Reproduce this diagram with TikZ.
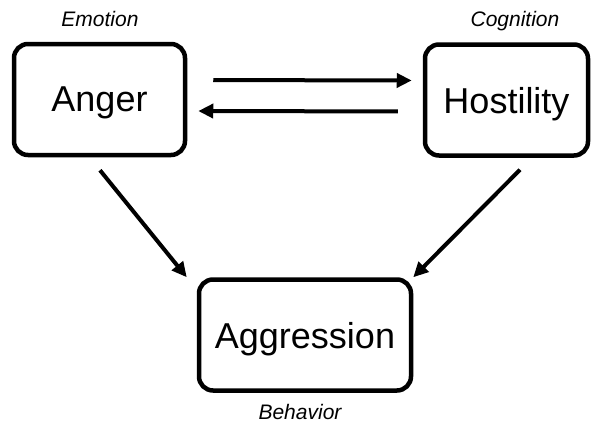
\documentclass[tikz,border=0pt]{standalone}
\usepackage{fontspec}
\setmainfont{Liberation Sans}
\usetikzlibrary{arrows.meta}
\begin{document}
\begin{tikzpicture}[x=1pt,y=-1pt,
  stage/.style={draw, line width=4.5pt, rounded corners=14pt,
    inner sep=0pt, minimum height=111pt, text depth=0pt,
    font=\fontsize{36}{40}\selectfont},
  role/.style={anchor=base, font=\fontsize{21}{24}\selectfont\itshape},
  link/.style={line width=4pt, -{Triangle[length=15pt,width=14pt]}}]
  \useasboundingbox[fill=white] (0,0) rectangle (592,431);

  % the three stages
  \node[stage, minimum width=171pt] (anger) at (99.5,99.5) {Anger};
  \node[stage, minimum width=163pt] (host) at (506.5,100) {Hostility};
  \node[stage, minimum width=212pt] (aggr) at (305,335) {Aggression};

  % what each stage stands for
  \node[role] (emo) at (100,26) {Emotion};
  \node[role] (cog) at (515,26) {Cognition};
  \node[role] (beh) at (300,419) {Behavior};

  % anger and hostility feed each other
  \draw[link, shorten <=26pt, shorten >=11pt]
    ([yshift=19.5pt]anger.east) -- ([yshift=19.5pt]host.west);
  \draw[link, shorten <=25pt, shorten >=11pt]
    ([yshift=-11.5pt]host.west) -- ([yshift=-11.5pt]anger.east);

  % both lead to aggression
  \coordinate (a1) at ([shift={(0.5,13)}]anger.south);
  \coordinate (a2) at ([shift={(-10,0)}]aggr.north west);
  \coordinate (h1) at ([shift={(13.5,12)}]host.south);
  \coordinate (h2) at ([shift={(0,0)}]aggr.north east);
  \draw[link] (a1) -- (a2);
  \draw[link] (h1) -- (h2);
\end{tikzpicture}
\end{document}
